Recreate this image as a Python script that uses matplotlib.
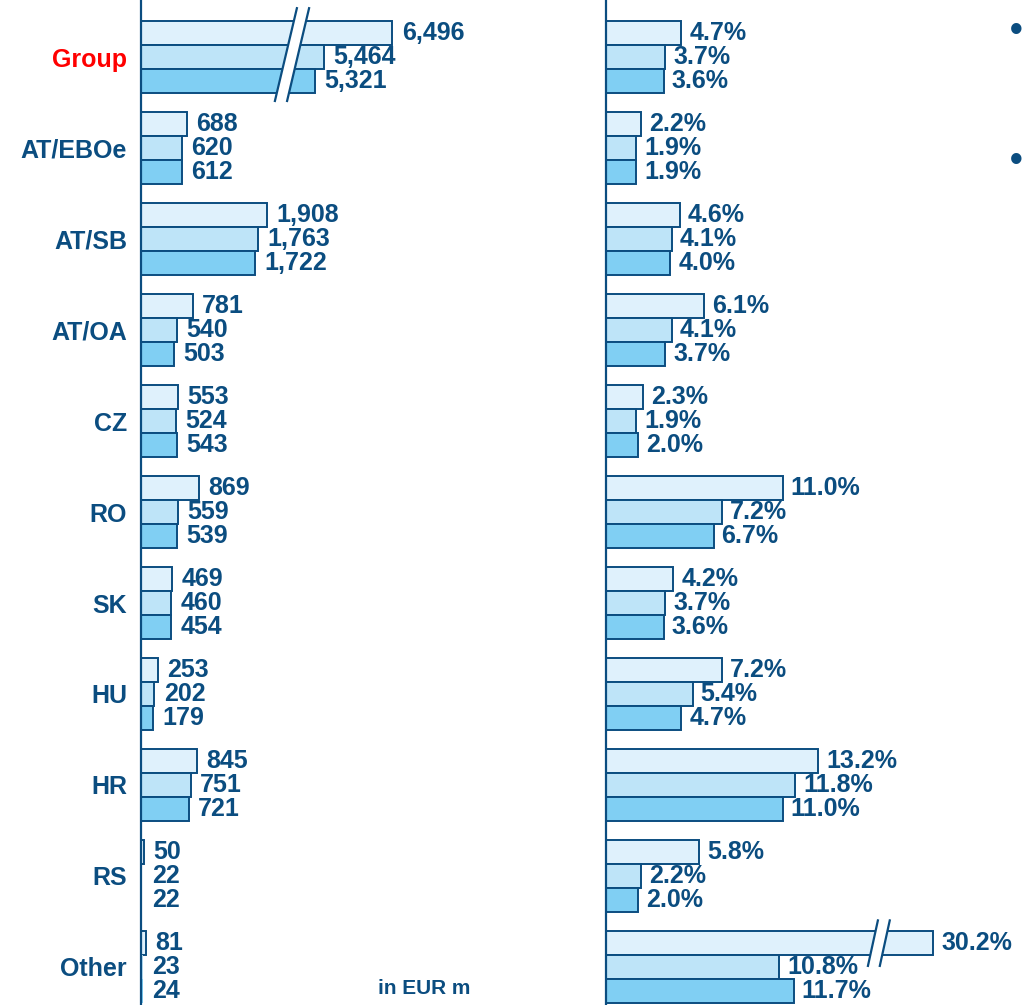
import matplotlib.pyplot as plt
import numpy as np

plt.rcParams['font.family'] = ['Liberation Sans', 'DejaVu Sans']

categories = ['Group', 'AT/EBOe', 'AT/SB', 'AT/OA', 'CZ', 'RO', 'SK', 'HU', 'HR', 'RS', 'Other']

# absolute values, in EUR m (three periods, top to bottom)
abs_p1 = [6496, 688, 1908, 781, 553, 869, 469, 253, 845, 50, 81]
abs_p2 = [5464, 620, 1763, 540, 524, 559, 460, 202, 751, 22, 23]
abs_p3 = [5321, 612, 1722, 503, 543, 539, 454, 179, 721, 22, 24]

# ratios in %
pct_p1 = [4.7, 2.2, 4.6, 6.1, 2.3, 11.0, 4.2, 7.2, 13.2, 5.8, 30.2]
pct_p2 = [3.7, 1.9, 4.1, 4.1, 1.9, 7.2, 3.7, 5.4, 11.8, 2.2, 10.8]
pct_p3 = [3.6, 1.9, 4.0, 3.7, 2.0, 6.7, 3.6, 4.7, 11.0, 2.0, 11.7]

navy = '#0b4d80'
fills = ['#dff1fc', '#bee4f8', '#80cff3']
bar_h = 0.264
fs = 18

fig = plt.figure(figsize=(10.23, 10.05), dpi=100)
ax1 = fig.add_axes([141 / 1023, 0, 340 / 1023, 1])
ax2 = fig.add_axes([606 / 1023, 0, 417 / 1023, 1])

ypos = np.arange(len(categories))


def draw_panel(ax, series, xmax, fmt, cut_idx, cut, brk, lbl_gap, min_w):
    for k, vals in enumerate(series):
        vals = np.array(vals, dtype=float)
        shown = vals.copy()
        shown[cut_idx] = vals[cut_idx] - cut[k]
        y = ypos + (k - 1) * bar_h
        # very thin bars just disappear behind the axis line
        lws = [1.4 if s > min_w else 0 for s in shown]
        ax.barh(y, shown, height=bar_h, color=fills[k], edgecolor=navy,
                linewidth=lws, zorder=2)
        for yy, s, v in zip(y, shown, vals):
            ax.text(s + lbl_gap, yy, fmt(v), va='center', ha='left',
                    color=navy, fontsize=fs, fontweight='bold', zorder=5)
    ax.set_xlim(0, xmax)
    ax.set_ylim(10.42, -0.63)
    for s in ['top', 'right', 'bottom']:
        ax.spines[s].set_visible(False)
    ax.spines['left'].set_color(navy)
    ax.spines['left'].set_linewidth(1.6)
    ax.spines['left'].set_zorder(6)
    ax.set_xticks([])
    ax.patch.set_alpha(0)

    # break marker
    xc, top, bot, slant, gap = brk
    row = ypos[cut_idx]
    xs_l = [xc - gap - slant, xc - gap + slant]
    xs_r = [xc + gap - slant, xc + gap + slant]
    ys = [row + bot, row + top]
    ax.fill([xs_l[0], xs_l[1], xs_r[1], xs_r[0]], [ys[0], ys[1], ys[1], ys[0]],
            color='white', zorder=3, lw=0)
    ax.plot(xs_l, ys, color=navy, lw=1.6, zorder=4)
    ax.plot(xs_r, ys, color=navy, lw=1.6, zorder=4)


# left: absolute values, Group bars shortened by a break
draw_panel(ax1, [abs_p1, abs_p2, abs_p3], 340 * 15.1, lambda v: f'{v:,.0f}',
           0, [2700, 2700, 2700], (2280, -0.54, 0.48, 166, 92), 140, 30)
# right: percentages, top "Other" bar shortened by a break
draw_panel(ax2, [pct_p1, pct_p2, pct_p3], 417 / 16.05, lambda v: f'{v:.1f}%',
           10, [9.8, 0, 0], (17.0, -0.51, -0.01, 0.31, 0.37), 0.5, 0.1)

ax1.set_yticks(ypos)
ax1.set_yticklabels(categories, fontsize=fs, fontweight='bold', color=navy)
ax1.tick_params(axis='y', length=0, pad=10)
ax1.get_yticklabels()[0].set_color('#ff0000')
ax2.set_yticks([])

fig.text(470 / 1023, 1 - 988 / 1005, 'in EUR m', ha='right', va='center',
         fontsize=15, fontweight='bold', color=navy)
for yb in [31, 162]:
    fig.text(1016 / 1023, 1 - yb / 1005, '\u2022', ha='center', va='center',
             fontsize=26, fontweight='bold', color=navy)

fig.savefig('out.png', dpi=100)
